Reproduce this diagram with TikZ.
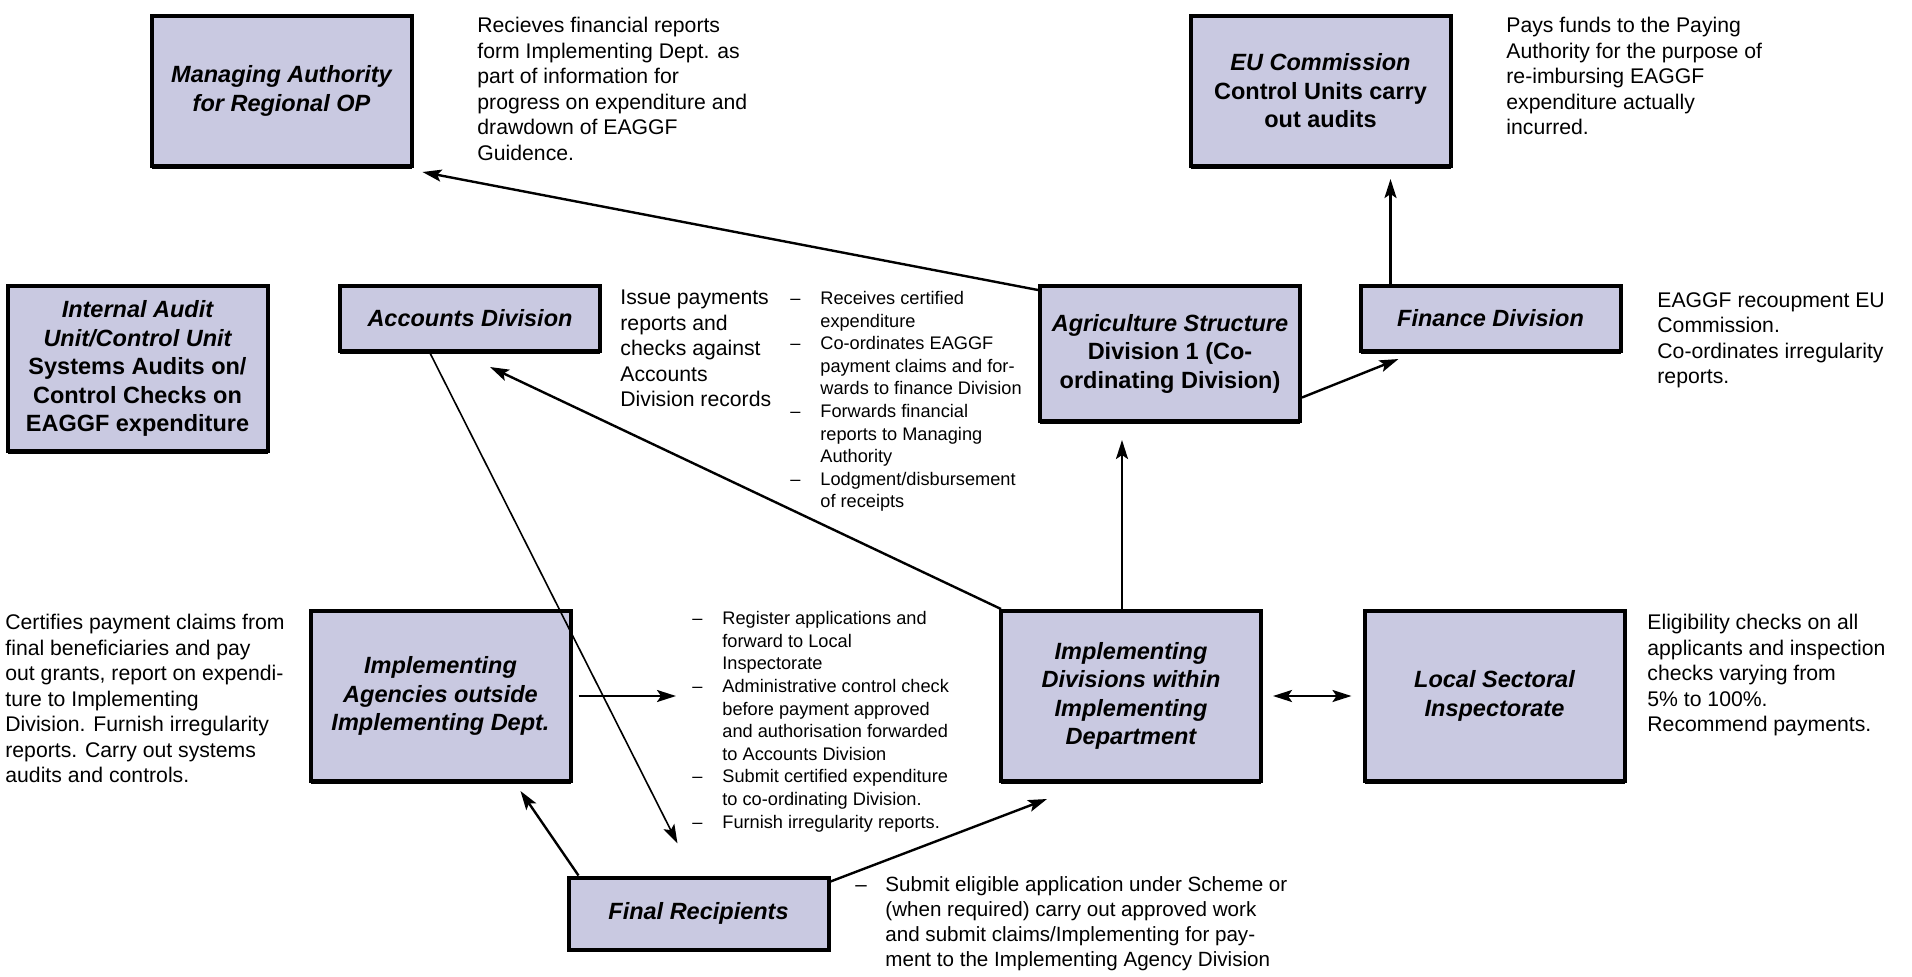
\documentclass[tikz,border=0pt]{standalone}
\usepackage{fontspec}
\setmainfont{Liberation Sans}
\usetikzlibrary{arrows.meta,shadows}
\definecolor{boxfill}{RGB}{201,201,225}
\newcommand\ditem[1]{\makebox[15pt][l]{–}#1}
\newcommand\dcont[1]{\hspace*{15pt}#1}
\begin{document}
\begin{tikzpicture}[x=0.5pt,y=-0.5pt,
  box/.style={draw=black,line width=2pt,fill=boxfill,minimum width=130pt,align=center,inner sep=2pt,
    drop shadow={shadow xshift=0pt,shadow yshift=-1.4pt,fill=black,opacity=1},
    font=\fontsize{11.75}{14.25}\selectfont\bfseries},
  note/.style={anchor=north west,inner sep=0pt,align=left,font=\fontsize{10.6}{12.75}\selectfont},
  lst/.style={anchor=north west,inner sep=0pt,align=left,font=\fontsize{9.1}{11.3}\selectfont},
  ahead/.tip={Stealth[length=9.5pt,width=6pt,inset=2pt]},
  arr/.style={line width=1.2pt,-ahead},
]
\useasboundingbox (0,0) rectangle (1912,976);

% boxes
\node[box,minimum height=75pt] (MA) at (281.5,91) {\itshape Managing Authority\\ \itshape for Regional OP};
\node[box,minimum height=75pt] (EU) at (1320.5,91) {\itshape EU Commission\\ \upshape Control Units carry\\ \upshape out audits};
\node[box,minimum height=82.5pt] (IA) at (137.5,368.5) {\itshape Internal Audit\\ \itshape Unit/Control Unit\\ \upshape Systems Audits on/\\ \upshape Control Checks on\\ \upshape EAGGF expenditure};
\node[box,minimum height=32.5pt] (AC) at (470,318.5) {\itshape Accounts Division};
\node[box,minimum height=67.5pt] (AG) at (1170,353.5) {\itshape Agriculture Structure\\ \upshape Division 1 (Co-\\ \upshape ordinating Division)};
\node[box,minimum height=32.5pt] (FI) at (1490.5,318.5) {\itshape Finance Division};
\node[box,minimum height=85pt] (IAG) at (440.5,696) {\itshape Implementing\\ \itshape Agencies outside\\ \itshape Implementing Dept.};
\node[box,minimum height=85pt] (ID) at (1131,696) {\itshape Implementing\\ \itshape Divisions within\\ \itshape Implementing\\ \itshape Department};
\node[box,minimum height=85pt] (LS) at (1494.5,696) {\itshape Local Sectoral\\ \itshape Inspectorate};
\node[box,minimum height=36pt] (FR) at (698.5,913.5) {\itshape Final Recipients};

% notes
\node[note] (MAn) at (477,17) {Recieves financial reports\\form Implementing Dept. as\\part of information for\\progress on expenditure and\\drawdown of EAGGF\\Guidence.};
\node[note] (EUn) at (1506,17) {Pays funds to the Paying\\Authority for the purpose of\\re-imbursing EAGGF\\expenditure actually\\incurred.};
\node[note] (ACn) at (620,290) {Issue payments\\reports and\\checks against\\Accounts\\Division records};
\node[lst] (AGn) at (790,291) {\ditem{Receives certified}\\\dcont{expenditure}\\\ditem{Co-ordinates EAGGF}\\\dcont{payment claims and for-}\\\dcont{wards to finance Division}\\\ditem{Forwards financial}\\\dcont{reports to Managing}\\\dcont{Authority}\\\ditem{Lodgment/disbursement}\\\dcont{of receipts}};
\node[note] (FIn) at (1657,292) {EAGGF recoupment EU\\Commission.\\Co-ordinates irregularity\\reports.};
\node[note] (IAGn) at (5,614) {Certifies payment claims from\\final beneficiaries and pay\\out grants, report on expendi-\\ture to Implementing\\Division. Furnish irregularity\\reports. Carry out systems\\audits and controls.};
\node[lst] (L2) at (692,611) {\ditem{Register applications and}\\\dcont{forward to Local}\\\dcont{Inspectorate}\\\ditem{Administrative control check}\\\dcont{before payment approved}\\\dcont{and authorisation forwarded}\\\dcont{to Accounts Division}\\\ditem{Submit certified expenditure}\\\dcont{to co-ordinating Division.}\\\ditem{Furnish irregularity reports.}};
\node[note] (LSn) at (1647,614) {Eligibility checks on all\\applicants and inspection\\checks varying from\\5\% to 100\%.\\Recommend payments.};
\node[note,font=\fontsize{10.3}{12.6}\selectfont] (FRn) at (855,876) {\ditem{Submit eligible application under Scheme or}\\\dcont{(when required) carry out approved work}\\\dcont{and submit claims/Implementing for pay-}\\\dcont{ment to the Implementing Agency Division}};

% connectors
\draw[arr] ([shift={(0,6)}]AG.north west) -- ([shift={(9,4)}]MA.south east);
\coordinate (fiTop) at ([shift={(32,0)}]FI.north west);
\draw[arr,shorten >=5.5pt] (fiTop) -- (fiTop |- EU.south);
\draw[arr] ([shift={(0,44)}]AG.east) -- ([shift={(40,6)}]FI.south west);
\coordinate (idTop) at ([shift={(-9,0)}]ID.north);
\draw[arr,shorten >=8.5pt] (idTop) -- (idTop |- AG.south);
\draw[arr] ([shift={(2,0)}]ID.north west) -- ([shift={(20,14)}]AC.south);
\draw[arr,line width=0.8pt] ([shift={(-40,0)}]AC.south) -- ([shift={(-21,-32)}]FR.north);
\draw[arr] ([shift={(12,0)}]FR.north west) -- ([shift={(80,8)}]IAG.south);
\draw[arr] ([shift={(0,6)}]FR.north east) -- ([shift={(48,16)}]ID.south west);
\draw[arr,shorten <=3pt,shorten >=8pt] (IAG.east) -- (IAG.east -| L2.west);
\draw[line width=1.2pt,ahead-ahead,shorten <=5pt,shorten >=5.5pt] (ID.east) -- (LS.west);
\end{tikzpicture}
\end{document}
